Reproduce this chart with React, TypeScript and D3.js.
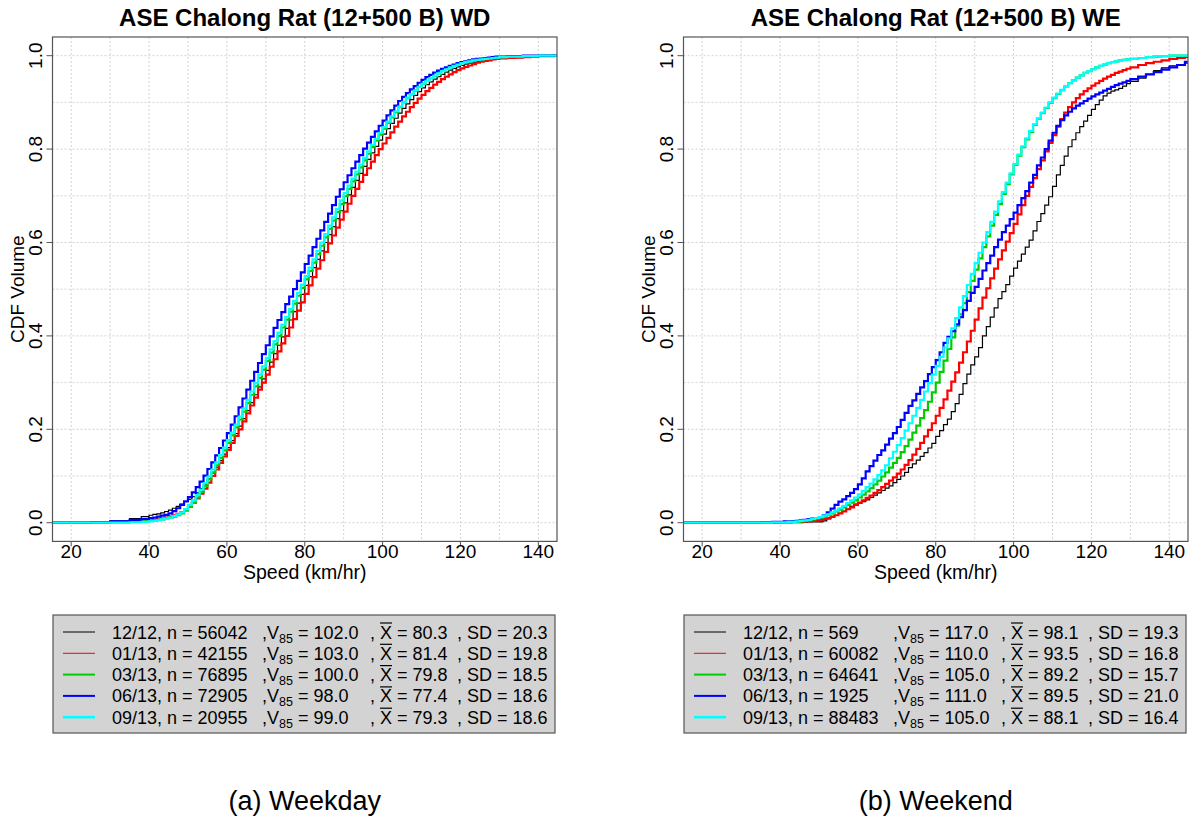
import React from 'react';
import * as d3 from 'd3';

// Speeds (km/hr) at which the empirical CDF values are read
const SPEED = [10, 20, 25, 30, 35, 38,
  40, 41, 42, 43, 44, 45, 46, 47, 48, 49,
  50, 51, 52, 53, 54, 55, 56, 57, 58, 59,
  60, 61, 62, 63, 64, 65, 66, 67, 68, 69,
  70, 71, 72, 73, 74, 75, 76, 77, 78, 79,
  80, 81, 82, 83, 84, 85, 86, 87, 88, 89,
  90, 91, 92, 93, 94, 95, 96, 97, 98, 99,
  100, 101, 102, 103, 104, 105, 106, 107, 108, 109,
  110, 111, 112, 113, 114, 115, 116, 117, 118, 119,
  120, 121, 122, 123, 124, 125, 126, 127, 128, 129,
  130, 132, 134, 136, 138, 140, 142, 144, 150];

// ---------- Weekday ----------
const WD_1212 = [0, 0, .001, .004, .009, .013,
  .016, .018, .019, .021, .024, .027, .031, .035, .040, .045,
  .050, .056, .064, .073, .083, .094, .106, .119, .133, .147,
  .161, .176, .191, .207, .223, .240, .257, .274, .291, .308,
  .326, .344, .362, .380, .398, .416, .434, .452, .470, .489,
  .508, .527, .546, .564, .582, .600, .617, .634, .651, .668,
  .685, .702, .718, .733, .748, .763, .778, .792, .806, .819,
  .832, .844, .855, .866, .877, .887, .897, .906, .915, .923,
  .931, .938, .944, .950, .955, .960, .965, .969, .973, .976,
  .979, .982, .984, .986, .988, .989, .990, .991, .992, .993,
  .994, .995, .996, .997, .998, .999, .999, 1, 1];
const WD_0113 = [0, 0, 0, .001, .002, .003,
  .004, .005, .007, .009, .011, .013, .016, .019, .023, .028,
  .034, .043, .052, .062, .073, .086, .100, .114, .128, .142,
  .156, .171, .186, .200, .217, .234, .251, .268, .285, .300,
  .317, .334, .350, .367, .384, .400, .418, .436, .454, .472,
  .490, .508, .526, .544, .562, .580, .598, .615, .632, .649,
  .666, .683, .700, .715, .730, .745, .759, .773, .787, .800,
  .812, .824, .836, .848, .859, .870, .880, .890, .899, .908,
  .916, .924, .931, .938, .944, .950, .955, .960, .965, .969,
  .973, .976, .979, .982, .985, .987, .989, .990, .992, .993,
  .994, .995, .996, .997, .998, .999, .999, 1, 1];
const WD_0313 = [0, 0, 0, .001, .002, .003,
  .004, .005, .006, .007, .009, .011, .013, .016, .020, .026,
  .034, .043, .054, .066, .079, .093, .108, .123, .139, .155,
  .171, .187, .204, .221, .238, .256, .274, .292, .310, .328,
  .346, .364, .382, .400, .418, .435, .452, .469, .486, .503,
  .521, .539, .557, .575, .593, .611, .629, .647, .665, .682,
  .699, .715, .731, .746, .761, .776, .790, .804, .818, .831,
  .844, .856, .868, .879, .890, .900, .909, .917, .925, .933,
  .940, .946, .952, .957, .962, .967, .971, .975, .978, .981,
  .984, .986, .988, .990, .991, .992, .993, .994, .995, .996,
  .997, .998, .998, .999, .999, 1, 1, 1, 1];
const WD_0613 = [0, 0, .001, .003, .006, .008,
  .010, .011, .013, .015, .017, .020, .025, .031, .038, .046,
  .055, .065, .076, .088, .101, .115, .129, .144, .160, .176,
  .192, .210, .228, .247, .266, .285, .304, .323, .342, .361,
  .380, .399, .417, .434, .451, .468, .484, .500, .518, .536,
  .554, .572, .590, .608, .626, .644, .662, .680, .698, .714,
  .729, .744, .759, .773, .787, .801, .814, .826, .838, .850,
  .861, .872, .883, .893, .903, .912, .920, .928, .935, .942,
  .948, .954, .959, .964, .968, .972, .975, .978, .981, .984,
  .986, .988, .990, .992, .993, .994, .995, .996, .997, .998,
  .998, .999, .999, 1, 1, 1, 1, 1, 1];
const WD_0913 = [0, 0, 0, 0, .001, .002,
  .003, .004, .005, .007, .009, .011, .014, .018, .022, .029,
  .038, .048, .059, .071, .085, .099, .114, .129, .145, .161,
  .177, .193, .210, .227, .245, .263, .281, .299, .317, .335,
  .353, .371, .389, .407, .424, .441, .458, .475, .492, .510,
  .528, .546, .564, .582, .600, .618, .636, .654, .672, .690,
  .706, .722, .737, .752, .767, .781, .795, .809, .822, .835,
  .847, .859, .870, .881, .891, .901, .910, .918, .926, .933,
  .940, .946, .952, .957, .962, .967, .971, .975, .978, .981,
  .984, .986, .988, .990, .991, .992, .993, .994, .995, .996,
  .997, .998, .998, .999, .999, 1, 1, 1, 1];

// ---------- Weekend ----------
const WE_1212 = [0, 0, 0, 0, 0, 0,
  0, 0, 0, 0, 0, 0, .001, .002, .002, .002,
  .002, .004, .008, .012, .016, .020, .025, .030, .035, .040,
  .042, .045, .049, .054, .059, .064, .069, .074, .079, .086,
  .093, .100, .108, .118, .126, .134, .142, .150, .160, .170,
  .185, .197, .210, .222, .238, .255, .275, .298, .318, .338,
  .355, .375, .400, .420, .440, .460, .480, .495, .510, .528,
  .545, .560, .575, .590, .605, .625, .645, .662, .680, .698,
  .720, .745, .765, .785, .805, .820, .835, .848, .860, .872,
  .885, .895, .905, .914, .920, .924, .927, .930, .935, .940,
  .945, .952, .960, .968, .974, .978, .981, .984, .986];
const WE_0113 = [0, 0, 0, 0, 0, .001,
  .001, .001, .001, .002, .002, .002, .003, .003, .004, .005,
  .006, .008, .010, .013, .016, .020, .024, .029, .033, .038,
  .043, .048, .053, .058, .064, .070, .076, .083, .090, .097,
  .105, .114, .124, .134, .146, .158, .171, .185, .199, .213,
  .229, .246, .264, .283, .302, .322, .343, .365, .388, .411,
  .435, .459, .482, .502, .523, .544, .564, .583, .602, .620,
  .640, .660, .680, .700, .719, .738, .757, .776, .795, .813,
  .830, .848, .864, .878, .890, .900, .909, .917, .924, .930,
  .936, .941, .946, .951, .955, .959, .963, .966, .969, .972,
  .975, .980, .984, .987, .990, .993, .995, .997, .998];
const WE_0313 = [0, 0, 0, 0, 0, 0,
  .001, .001, .001, .002, .002, .003, .004, .005, .007, .009,
  .011, .013, .016, .020, .024, .028, .033, .038, .043, .048,
  .054, .060, .067, .074, .082, .090, .099, .108, .118, .128,
  .139, .151, .164, .178, .193, .208, .224, .241, .259, .279,
  .300, .323, .347, .372, .397, .422, .446, .470, .494, .518,
  .542, .566, .590, .613, .636, .659, .682, .704, .725, .746,
  .766, .786, .804, .821, .837, .852, .865, .877, .888, .899,
  .909, .918, .926, .934, .941, .947, .953, .958, .963, .967,
  .971, .975, .978, .981, .984, .986, .988, .990, .991, .992,
  .993, .995, .997, .998, .999, 1, 1, 1, 1];
const WE_0613 = [0, 0, 0, 0, .001, .002,
  .002, .003, .003, .003, .004, .005, .006, .008, .009, .010,
  .012, .016, .022, .030, .038, .045, .050, .057, .064, .072,
  .082, .095, .110, .121, .133, .145, .155, .167, .180, .192,
  .205, .220, .235, .250, .262, .276, .290, .303, .318, .333,
  .348, .365, .385, .398, .410, .425, .440, .455, .475, .492,
  .505, .522, .540, .556, .572, .590, .606, .622, .636, .650,
  .664, .680, .695, .710, .728, .745, .765, .782, .800, .818,
  .835, .850, .862, .872, .880, .887, .893, .898, .903, .908,
  .913, .917, .921, .925, .929, .933, .937, .940, .943, .946,
  .950, .955, .960, .965, .970, .975, .980, .987, .989];
const WE_0913 = [0, 0, 0, 0, 0, .001,
  .001, .001, .002, .002, .003, .004, .005, .006, .008, .010,
  .012, .015, .018, .022, .026, .031, .036, .042, .048, .054,
  .061, .068, .076, .084, .093, .102, .112, .123, .138, .152,
  .166, .181, .197, .213, .229, .246, .263, .281, .299, .317,
  .336, .355, .375, .395, .416, .438, .461, .485, .509, .533,
  .556, .578, .600, .622, .644, .666, .688, .708, .728, .748,
  .768, .788, .806, .823, .839, .853, .866, .878, .889, .900,
  .910, .919, .927, .934, .941, .947, .953, .958, .963, .967,
  .971, .975, .978, .981, .984, .986, .988, .990, .991, .992,
  .993, .995, .997, .998, .999, 1, 1, 1, 1];

// ---------- Legend info ----------
const MONTHS = ['12/12', '01/13', '03/13', '06/13', '09/13'];
const COLORS = ['#000000', '#ff0000', '#00cd00', '#0000ff', '#00ffff'];
const PLOT_WIDTHS = [1.2, 2.2, 2.2, 2.2, 2.2];
const LEGEND_WIDTHS = [1, 1, 2, 2, 2.5];

const WD_N = ['56042', '42155', '76895', '72905', '20955'];
const WD_V85 = ['102.0', '103.0', '100.0', '98.0', '99.0'];
const WD_MEAN = ['80.3', '81.4', '79.8', '77.4', '79.3'];
const WD_SD = ['20.3', '19.8', '18.5', '18.6', '18.6'];

const WE_N = ['569', '60082', '64641', '1925', '88483'];
const WE_V85 = ['117.0', '110.0', '105.0', '111.0', '105.0'];
const WE_MEAN = ['98.1', '93.5', '89.2', '89.5', '88.1'];
const WE_SD = ['19.3', '16.8', '15.7', '21.0', '16.4'];

const X_TICKS = [20, 40, 60, 80, 100, 120, 140];
const X_GRID = [20, 30, 40, 50, 60, 70, 80, 90, 100, 110, 120, 130, 140];
const Y_TICKS = [0, 0.2, 0.4, 0.6, 0.8, 1.0];
const Y_GRID = [0, 0.1, 0.2, 0.3, 0.4, 0.5, 0.6, 0.7, 0.8, 0.9, 1.0];

const WD_SERIES = [WD_1212, WD_0113, WD_0313, WD_0613, WD_0913];
const WE_SERIES = [WE_1212, WE_0113, WE_0313, WE_0613, WE_0913];

const FONT = 'Liberation Sans, Arial, Helvetica, sans-serif';

interface PanelProps {
  id: string;
  offsetX: number;
  title: string;
  caption: string;
  series: number[][];
  ns: string[];
  v85: string[];
  means: string[];
  sds: string[];
}

function Panel({ id, offsetX, title, caption, series, ns, v85, means, sds }: PanelProps) {
  const left = 52.5 + offsetX;
  const right = 557 + offsetX;
  const top = 37;
  const bottom = 541.4;
  const x = d3.scaleLinear().domain([15.2, 144.8]).range([left, right]);
  const y = d3.scaleLinear().domain([-0.04, 1.04]).range([bottom, top]);
  const line = d3
    .line<number>()
    .x((_, i) => x(SPEED[i]))
    .y((d) => y(d))
    .curve(d3.curveStepAfter);
  const cx = (left + right) / 2;
  const cy = (top + bottom) / 2;

  const legL = 53 + offsetX;
  const legT = 615;
  const legW = 502;
  const legH = 118;
  const rowY = [632, 653.3, 674.6, 695.9, 717.2];
  const col1 = 112 + offsetX;
  const col2 = 262 + offsetX;
  const col3 = 370 + offsetX;
  const col4 = 457 + offsetX;

  return (
    <g fontFamily={FONT}>
      <defs>
        <clipPath id={`clip-${id}`}>
          <rect x={left} y={top} width={right - left} height={bottom - top} />
        </clipPath>
      </defs>
      <text x={cx} y={26} textAnchor="middle" fontWeight="bold" fontSize={24} fill="#000">
        {title}
      </text>
      {/* grid */}
      {X_GRID.map((g) => (
        <line key={`gx${g}`} x1={x(g)} x2={x(g)} y1={top} y2={bottom} stroke="#d3d3d3" strokeWidth={1} strokeDasharray="2,2" />
      ))}
      {Y_GRID.map((g) => (
        <line key={`gy${g}`} x1={left} x2={right} y1={y(g)} y2={y(g)} stroke="#d3d3d3" strokeWidth={1} strokeDasharray="2,2" />
      ))}
      {/* curves */}
      <g clipPath={`url(#clip-${id})`}>
        {series.map((s, k) => (
          <path key={k} d={line(s) || ''} fill="none" stroke={COLORS[k]} strokeWidth={PLOT_WIDTHS[k]} strokeLinejoin="miter" />
        ))}
      </g>
      {/* box */}
      <rect x={left} y={top} width={right - left} height={bottom - top} fill="none" stroke="#555" strokeWidth={1.2} />
      {/* x axis */}
      {X_TICKS.map((t) => (
        <g key={`xt${t}`}>
          <line x1={x(t)} x2={x(t)} y1={bottom} y2={bottom + 5} stroke="#555" />
          <text x={x(t)} y={558} textAnchor="middle" fontSize={19} fill="#000">
            {t}
          </text>
        </g>
      ))}
      <text x={cx} y={579} textAnchor="middle" fontSize={19.5} fill="#000">
        Speed (km/hr)
      </text>
      {/* y axis */}
      {Y_TICKS.map((t) => (
        <g key={`yt${t}`}>
          <line x1={left - 6} x2={left} y1={y(t)} y2={y(t)} stroke="#555" />
          <text
            transform={`translate(${left - 11},${y(t)}) rotate(-90)`}
            textAnchor="middle"
            fontSize={19}
            fill="#000"
          >
            {t.toFixed(1)}
          </text>
        </g>
      ))}
      <text transform={`translate(${offsetX + 24},${cy}) rotate(-90)`} textAnchor="middle" fontSize={19} fill="#000">
        CDF Volume
      </text>
      {/* legend */}
      <rect x={legL} y={legT} width={legW} height={legH} fill="#d3d3d3" stroke="#555" strokeWidth={1.2} />
      {MONTHS.map((m, k) => {
        const yy = rowY[k];
        const base = yy + 6.5;
        return (
          <g key={`lg${k}`} fontSize={18} fill="#000">
            <line x1={63 + offsetX} x2={95 + offsetX} y1={yy} y2={yy} stroke={COLORS[k]} strokeWidth={LEGEND_WIDTHS[k]} />
            <text x={col1} y={base}>{`${m}, n = ${ns[k]}`}</text>
            <text x={col2} y={base}>
              <tspan>,V</tspan>
              <tspan fontSize={12.5} dy={4}>85</tspan>
              <tspan dy={-4} dx={5}>{`= ${v85[k]}`}</tspan>
            </text>
            <text x={col3} y={base}>,</text>
            <text x={col3 + 10} y={base}>X</text>
            <line x1={col3 + 10} x2={col3 + 22} y1={base - 15.5} y2={base - 15.5} stroke="#000" strokeWidth={1.2} />
            <text x={col3 + 27} y={base}>{`= ${means[k]}`}</text>
            <text x={col4} y={base}>{`, SD = ${sds[k]}`}</text>
          </g>
        );
      })}
      <text x={cx} y={810} textAnchor="middle" fontSize={27} fill="#000">
        {caption}
      </text>
    </g>
  );
}

export default function App() {
  return (
    <svg
      width={1189}
      height={818}
      viewBox="0 0 1189 818"
      style={{ position: 'absolute', left: 0, top: 0, background: '#fff' }}
    >
      <rect x={0} y={0} width={1189} height={818} fill="#fff" />
      <Panel
        id="wd"
        offsetX={0}
        title="ASE Chalong Rat (12+500 B) WD"
        caption="(a) Weekday"
        series={WD_SERIES}
        ns={WD_N}
        v85={WD_V85}
        means={WD_MEAN}
        sds={WD_SD}
      />
      <Panel
        id="we"
        offsetX={631}
        title="ASE Chalong Rat (12+500 B) WE"
        caption="(b) Weekend"
        series={WE_SERIES}
        ns={WE_N}
        v85={WE_V85}
        means={WE_MEAN}
        sds={WE_SD}
      />
    </svg>
  );
}
